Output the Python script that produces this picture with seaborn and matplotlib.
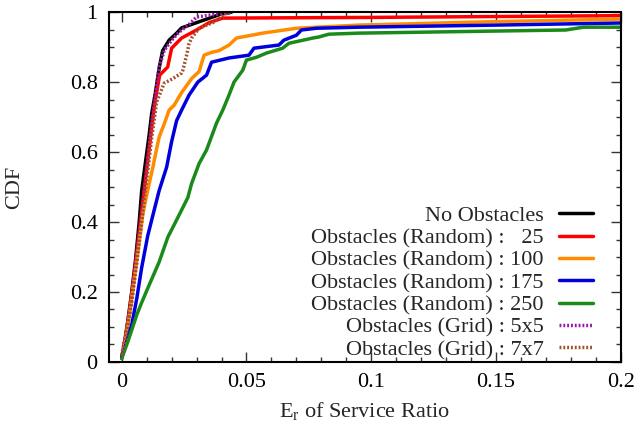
import matplotlib
matplotlib.use("Agg")
import matplotlib.pyplot as plt
import seaborn as sns
import pandas as pd
from matplotlib.ticker import MultipleLocator, FuncFormatter

# 數據
labels = [
    "No Obstacles",
    "Obstacles (Random) :   25",
    "Obstacles (Random) : 100",
    "Obstacles (Random) : 175",
    "Obstacles (Random) : 250",
    "Obstacles (Grid) : 5x5",
    "Obstacles (Grid) : 7x7",
]

x_none = [0, 0.001, 0.0025, 0.004, 0.0055, 0.007, 0.008, 0.0095, 0.011, 0.012, 0.0135, 0.015,
          0.0164, 0.019, 0.022, 0.024, 0.028, 0.032, 0.036, 0.040, 0.044]
y_none = [0.01, 0.05, 0.12, 0.20, 0.29, 0.40, 0.49, 0.57, 0.65, 0.71, 0.77, 0.84,
          0.89, 0.92, 0.94, 0.955, 0.965, 0.975, 0.985, 0.995, 1.0]

x_r25 = [0, 0.0015, 0.003, 0.0045, 0.006, 0.0075, 0.009, 0.0105, 0.012, 0.0135, 0.0152,
         0.0184, 0.020, 0.024, 0.030, 0.035, 0.0405, 0.1, 0.2]
y_r25 = [0.01, 0.07, 0.14, 0.22, 0.31, 0.40, 0.49, 0.58, 0.67, 0.75, 0.82,
         0.843, 0.897, 0.926, 0.949, 0.97, 0.983, 0.985, 0.99]

x_r100 = [0, 0.0015, 0.003, 0.0045, 0.006, 0.0075, 0.0085, 0.0098, 0.011, 0.0125, 0.014, 0.015,
          0.017, 0.019, 0.021, 0.024, 0.026, 0.028, 0.031, 0.033, 0.036, 0.039, 0.043, 0.046,
          0.0565, 0.070, 0.095, 0.15, 0.2]
y_r100 = [0.01, 0.06, 0.13, 0.21, 0.29, 0.37, 0.425, 0.47, 0.51, 0.557, 0.61, 0.643,
          0.68, 0.72, 0.734, 0.77, 0.79, 0.81, 0.83, 0.877, 0.885, 0.89, 0.906, 0.926,
          0.94, 0.954, 0.963, 0.973, 0.98]

x_r175 = [0, 0.0012, 0.004, 0.006, 0.008, 0.0104, 0.013, 0.015, 0.018, 0.020, 0.022, 0.024,
          0.027, 0.0305, 0.034, 0.036, 0.043, 0.051, 0.053, 0.063, 0.065, 0.070, 0.072, 0.078,
          0.095, 0.15, 0.2]
y_r175 = [0.014, 0.04, 0.106, 0.18, 0.27, 0.36, 0.434, 0.49, 0.557, 0.63, 0.69, 0.72,
          0.763, 0.80, 0.82, 0.857, 0.869, 0.877, 0.897, 0.906, 0.92, 0.934, 0.949, 0.954,
          0.957, 0.963, 0.969]

x_r250 = [0, 0.0024, 0.006, 0.008, 0.011, 0.015, 0.0185, 0.022, 0.0265, 0.028, 0.031, 0.034,
          0.038, 0.0405, 0.043, 0.045, 0.0485, 0.050, 0.054, 0.058, 0.0645, 0.067, 0.0766,
          0.079, 0.083, 0.095, 0.178, 0.185, 0.2]
y_r250 = [0.01, 0.057, 0.134, 0.17, 0.22, 0.286, 0.357, 0.406, 0.47, 0.51, 0.567, 0.606,
          0.683, 0.72, 0.763, 0.80, 0.834, 0.863, 0.871, 0.883, 0.897, 0.911, 0.926,
          0.929, 0.937, 0.94, 0.949, 0.957, 0.957]

x_g5 = [0, 0.002, 0.004, 0.006, 0.008, 0.010, 0.012, 0.0135, 0.015, 0.017, 0.020, 0.023,
        0.027, 0.030, 0.037, 0.043, 0.044]
y_g5 = [0.02, 0.09, 0.18, 0.30, 0.42, 0.55, 0.68, 0.76, 0.843, 0.89, 0.92, 0.943,
        0.965, 0.986, 0.993, 0.997, 1.0]

x_g7 = [0, 0.002, 0.004, 0.006, 0.008, 0.010, 0.012, 0.014, 0.017, 0.0205, 0.024, 0.0245,
        0.026, 0.027, 0.028, 0.031, 0.0365, 0.042, 0.044]
y_g7 = [0.02, 0.09, 0.17, 0.28, 0.40, 0.52, 0.64, 0.743, 0.797, 0.81, 0.826, 0.834,
        0.877, 0.91, 0.926, 0.954, 0.97, 0.997, 1.0]

xs = [x_none, x_r25, x_r100, x_r175, x_r250, x_g5, x_g7]
ys = [y_none, y_r25, y_r100, y_r175, y_r250, y_g5, y_g7]
colors = ["#000000", "#ff0000", "#ff8c00", "#0000dd", "#1a8a1a", "#9a1aa8", "#a0522d"]
styles = ["-", "-", "-", "-", "-", (0, (0.55, 0.55)), (0, (0.55, 0.55))]

sns.set_theme(style="ticks")
plt.rcParams["font.family"] = ["Liberation Serif", "DejaVu Serif"]
plt.rcParams["mathtext.fontset"] = "custom"
plt.rcParams["mathtext.rm"] = "Liberation Serif"

fig = plt.figure(figsize=(6.36, 4.34), dpi=100)
ax = fig.add_axes([0.171, 0.166, 0.805, 0.806])

for lab, x, y, c, ls in zip(labels, xs, ys, colors, styles):
    df = pd.DataFrame({"x": x, "y": y})
    sns.lineplot(data=df, x="x", y="y", sort=False, estimator=None, color=c,
                 linestyle=ls, linewidth=2.5, label=lab, ax=ax)

ax.set_xlim(-0.0052, 0.2)
ax.set_ylim(0, 1)
ax.xaxis.set_major_locator(MultipleLocator(0.05))
ax.xaxis.set_minor_locator(MultipleLocator(0.01))
ax.yaxis.set_major_locator(MultipleLocator(0.2))
ax.yaxis.set_minor_locator(MultipleLocator(0.05))
fmt = FuncFormatter(lambda v, p: "%g" % round(v, 3))
ax.xaxis.set_major_formatter(fmt)
ax.yaxis.set_major_formatter(fmt)
ax.tick_params(which="both", direction="in", top=True, right=True, colors="#333333",
               labelcolor="black", labelsize=16, width=1)
ax.tick_params(which="major", length=7, pad=8)
ax.tick_params(which="minor", length=3.5)
for s in ax.spines.values():
    s.set_linewidth(1.5)
    s.set_color("black")

ax.set_xlabel(r"$\mathregular{E_r}$ of Service Ratio", fontsize=16, labelpad=6)
ax.set_ylabel("CDF", fontsize=16, va="center", ha="center")
ax.yaxis.set_label_coords(-0.184, 0.5)

leg = ax.legend(loc="lower right", markerfirst=False, frameon=False, fontsize=16,
                handlelength=1.5, handletextpad=0.7, labelspacing=0.08,
                borderpad=0.0, borderaxespad=0.0, bbox_to_anchor=(0.945, 0.005))

fig.savefig("out.png", dpi=100)
